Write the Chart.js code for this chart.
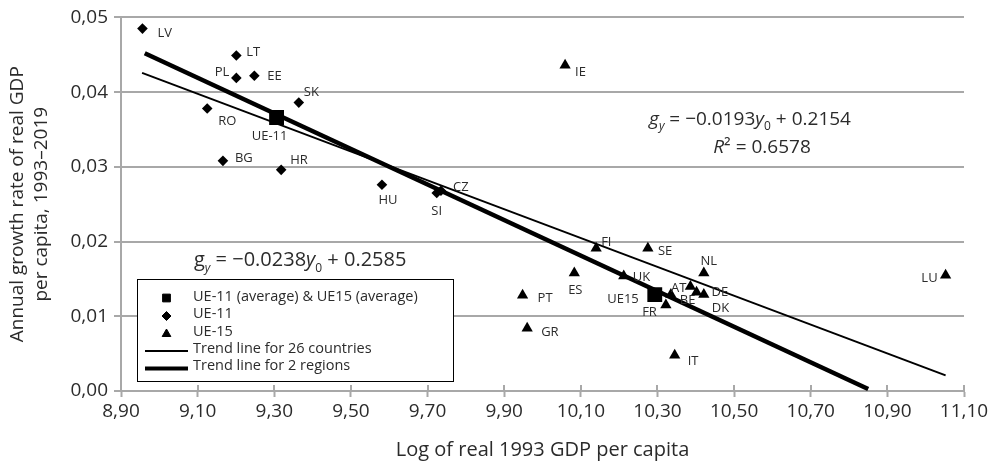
<!DOCTYPE html>
<html>
<head>
<meta charset="utf-8">
<script src="https://cdn.jsdelivr.net/npm/chart.js@4.4.1/dist/chart.umd.min.js"></script>
<style>
  html, body { margin: 0; padding: 0; background: #fff; }
  #wrap { width: 994px; height: 462px; }
</style>
</head>
<body>
<div id="wrap"><canvas id="c" width="994" height="462"></canvas></div>
<script>
const FONT = '"Open Sans", "Noto Sans", sans-serif';
const INK = '#2b2b2b';
const GRID = '#a8a8a8';

// Regional averages (log of real 1993 GDP per capita, annual growth 1993–2019)
const regionNames = ['UE-11', 'UE15'];
const regionX = [9.306, 10.293];
const regionY = [0.0366, 0.0129];

// UE-11 countries
const ue11Names = ['LV', 'LT', 'PL', 'EE', 'SK', 'RO', 'BG', 'HR', 'HU', 'CZ', 'SI'];
const ue11X = [8.956, 9.201, 9.201, 9.248, 9.364, 9.125, 9.166, 9.318, 9.581, 9.735, 9.724];
const ue11Y = [0.0485, 0.0449, 0.0419, 0.0422, 0.0386, 0.0378, 0.0308, 0.0296, 0.0276, 0.0268, 0.0265];

// UE-15 countries
const ue15Names = ['IE', 'FI', 'SE', 'NL', 'ES', 'UK', 'PT', 'GR', 'AT', 'DE', 'DK', 'BE', 'FR', 'IT', 'LU'];
const ue15X = [10.059, 10.140, 10.275, 10.421, 10.083, 10.212, 9.948, 9.960, 10.386, 10.402, 10.421, 10.335, 10.322, 10.345, 11.052];
const ue15Y = [0.0436, 0.0191, 0.0191, 0.0158, 0.0158, 0.0154, 0.0128, 0.0084, 0.0140, 0.0132, 0.0129, 0.0129, 0.0115, 0.0048, 0.0155];

// Fitted trend lines: [26 countries, 2 regions]
const trendSlopes = [-0.0193, -0.0238];
const trendIntercepts = [0.2154, 0.2585];
const trendFrom = [8.955, 8.962];
const trendTo = [11.052, 10.85];
const trendR2 = 0.6578;

// Axis ticks
const xTicks = [8.9, 9.1, 9.3, 9.5, 9.7, 9.9, 10.1, 10.3, 10.5, 10.7, 10.9, 11.1];
const yTicks = [0, 0.01, 0.02, 0.03, 0.04, 0.05];

const toPoints = (xs, ys) => xs.map((x, i) => ({ x, y: ys[i] }));
const trendPoints = k => [trendFrom[k], trendTo[k]].map(x => ({ x, y: trendSlopes[k] * x + trendIntercepts[k] }));
const comma = (v, d) => v.toFixed(d).replace('.', ',');

// Where each point's name sits relative to its marker
const labelPlace = {
  'LV': ['left', 15, 5], 'LT': ['left', 10, -3], 'PL': ['right', -7, -6], 'EE': ['left', 13, 1],
  'SK': ['left', 5, -10], 'RO': ['left', 11, 13], 'UE-11': ['center', -7, 19], 'BG': ['left', 12, -3],
  'HR': ['left', 9, -10], 'HU': ['center', 6, 16], 'CZ': ['left', 12, -3], 'SI': ['center', 0, 18],
  'IE': ['left', 10, 7], 'FI': ['left', 5, -6], 'SE': ['left', 10, 3], 'NL': ['center', 5, -12],
  'ES': ['center', 1, 17], 'UK': ['left', 9, 1], 'PT': ['left', 15, 3], 'GR': ['left', 14, 4],
  'AT': ['right', -4, 2], 'DE': ['left', 15, 0], 'BE': ['left', 9, 6], 'DK': ['left', 8, 14],
  'FR': ['right', -9, 7], 'UE15': ['right', -16, 5], 'IT': ['left', 13, 6], 'LU': ['right', -8, 3]
};

// Short tick stubs on the inner side of both axes
const innerTicks = {
  id: 'innerTicks',
  afterDraw(chart) {
    const ctx = chart.ctx, xs = chart.scales.x, ys = chart.scales.y;
    ctx.save();
    ctx.strokeStyle = GRID;
    ctx.lineWidth = 2;
    ctx.beginPath();
    xs.ticks.forEach(t => {
      const px = Math.round(xs.getPixelForValue(t.value));
      ctx.moveTo(px, ys.bottom);
      ctx.lineTo(px, ys.bottom - 6);
    });
    ys.ticks.forEach(t => {
      const py = Math.round(ys.getPixelForValue(t.value));
      ctx.moveTo(xs.left, py);
      ctx.lineTo(xs.left + 5, py);
    });
    ctx.stroke();
    ctx.restore();
  }
};

// Country / region name labels
const pointNames = {
  id: 'pointNames',
  afterDatasetsDraw(chart) {
    const ctx = chart.ctx;
    ctx.save();
    ctx.font = `13px ${FONT}`;
    ctx.fillStyle = INK;
    ctx.textBaseline = 'middle';
    chart.data.datasets.forEach((ds, i) => {
      if (!ds.names) return;
      const meta = chart.getDatasetMeta(i);
      ds.names.forEach((name, j) => {
        const el = meta.data[j];
        const [align, dx, dy] = labelPlace[name] || ['left', 8, 0];
        ctx.textAlign = align;
        ctx.fillText(name, el.x + dx, el.y + dy);
      });
    });
    ctx.restore();
  }
};

function drawRich(ctx, parts, x, y, size, align) {
  const fontFor = p => `${p.i ? 'italic ' : ''}${p.sub ? Math.round(size * 0.62) : size}px ${FONT}`;
  let total = 0;
  parts.forEach(p => { ctx.font = fontFor(p); p.w = ctx.measureText(p.t).width; total += p.w; });
  let cx = align === 'center' ? x - total / 2 : x;
  ctx.textAlign = 'left';
  parts.forEach(p => {
    ctx.font = fontFor(p);
    ctx.fillText(p.t, cx, p.sub ? y + size * 0.28 : y);
    cx += p.w;
  });
}

const eqText = k => ({
  slope: '\u2212' + Math.abs(trendSlopes[k]).toFixed(4),
  icpt: trendIntercepts[k].toFixed(4)
});

// Regression equations
const equations = {
  id: 'equations',
  afterDraw(chart) {
    const ctx = chart.ctx;
    ctx.save();
    ctx.fillStyle = INK;
    ctx.textBaseline = 'alphabetic';
    const a = eqText(0);
    drawRich(ctx, [
      { t: 'g', i: true }, { t: 'y', i: true, sub: true },
      { t: ' = ' + a.slope }, { t: 'y', i: true }, { t: '0', sub: true }, { t: ' + ' + a.icpt }
    ], 750, 125, 19, 'center');
    drawRich(ctx, [{ t: 'R', i: true }, { t: '\u00b2 = ' + trendR2.toFixed(4) }], 762, 153, 19, 'center');
    const b = eqText(1);
    drawRich(ctx, [
      { t: 'g' }, { t: 'y', i: true, sub: true },
      { t: ' = ' + b.slope }, { t: 'y', i: true }, { t: '0', sub: true }, { t: ' + ' + b.icpt }
    ], 194, 266, 20, 'left');
    ctx.restore();
  }
};

// Boxed legend in the lower left
const legendBox = {
  id: 'legendBox',
  afterDraw(chart) {
    const ctx = chart.ctx, H = Chart.helpers;
    ctx.save();
    ctx.fillStyle = '#fff';
    ctx.fillRect(137.5, 279.5, 316, 102);
    ctx.strokeStyle = '#000';
    ctx.lineWidth = 1;
    ctx.strokeRect(137.5, 279.5, 316, 102);
    ctx.fillStyle = '#000';
    ctx.strokeStyle = '#000';
    H.drawPoint(ctx, { pointStyle: 'rect', radius: 5.5, rotation: 0, borderWidth: 1 }, 166.5, 298);
    H.drawPoint(ctx, { pointStyle: 'rectRot', radius: 4.5, rotation: 0, borderWidth: 1 }, 166.5, 316);
    H.drawPoint(ctx, { pointStyle: 'triangle', radius: 5, rotation: 0, borderWidth: 1 }, 166.5, 334);
    ctx.beginPath(); ctx.lineWidth = 2; ctx.moveTo(145, 351); ctx.lineTo(188, 351); ctx.stroke();
    ctx.beginPath(); ctx.lineWidth = 4; ctx.moveTo(145, 368.5); ctx.lineTo(188, 368.5); ctx.stroke();
    ctx.fillStyle = INK;
    ctx.font = `14.5px ${FONT}`;
    ctx.textAlign = 'left';
    ctx.textBaseline = 'alphabetic';
    const rows = ['UE-11 (average) & UE15 (average)', 'UE-11', 'UE-15', 'Trend line for 26 countries', 'Trend line for 2 regions'];
    const base = [300.7, 318.3, 335.7, 353.3, 370];
    rows.forEach((r, i) => ctx.fillText(r, 193, base[i]));
    ctx.restore();
  }
};

new Chart(document.getElementById('c'), {
  type: 'scatter',
  data: {
    datasets: [
      { label: 'Trend line for 2 regions', type: 'line', data: trendPoints(1), borderColor: '#000', borderWidth: 4.5,
        pointRadius: 0, fill: false, showLine: true, borderCapStyle: 'butt', order: 1 },
      { label: 'Trend line for 26 countries', type: 'line', data: trendPoints(0), borderColor: '#000', borderWidth: 2,
        pointRadius: 0, fill: false, showLine: true, order: 2 },
      { label: 'UE-11 (average) & UE15 (average)', data: toPoints(regionX, regionY), names: regionNames,
        pointStyle: 'rect', pointRadius: 10.5, backgroundColor: '#000', borderColor: '#000', borderWidth: 0, order: 3 },
      { label: 'UE-11', data: toPoints(ue11X, ue11Y), names: ue11Names,
        pointStyle: 'rectRot', pointRadius: 5.3, backgroundColor: '#000', borderColor: '#000', borderWidth: 0, order: 4 },
      { label: 'UE-15', data: toPoints(ue15X, ue15Y), names: ue15Names,
        pointStyle: 'triangle', pointRadius: 6.5, backgroundColor: '#000', borderColor: '#000', borderWidth: 0, order: 5 }
    ]
  },
  options: {
    responsive: false,
    animation: false,
    devicePixelRatio: 1,
    layout: { padding: { left: 0, right: 30, top: 17, bottom: 0 } },
    plugins: { legend: { display: false }, tooltip: { enabled: false } },
    scales: {
      x: {
        type: 'linear', min: 8.9, max: 11.1,
        afterBuildTicks: s => { s.ticks = xTicks.map(v => ({ value: v })); },
        afterFit: s => { s.height = 71; },
        grid: { drawOnChartArea: false, drawTicks: true, tickLength: 6, tickWidth: 2, tickColor: GRID },
        border: { display: true, color: GRID, width: 2 },
        ticks: { color: INK, font: { family: FONT, size: 19 }, padding: 3, maxRotation: 0, autoSkip: false,
                 callback: v => comma(v, 2) },
        title: { display: true, text: 'Log of real 1993 GDP per capita', color: INK,
                 font: { family: FONT, size: 20, lineHeight: 1.2 }, padding: { top: 0, bottom: 0 } }
      },
      y: {
        type: 'linear', min: 0, max: 0.05,
        afterBuildTicks: s => { s.ticks = yTicks.map(v => ({ value: v })); },
        afterFit: s => { s.width = 121; },
        grid: { drawOnChartArea: true, color: GRID, lineWidth: 2, drawTicks: true, tickLength: 7, tickWidth: 2, tickColor: GRID },
        border: { display: true, color: GRID, width: 2 },
        ticks: { color: INK, font: { family: FONT, size: 19 }, padding: 6, autoSkip: false,
                 callback: v => comma(v, 2) },
        title: { display: true, text: ['Annual growth rate of real GDP', 'per capita, 1993\u20132019'], color: INK,
                 font: { family: FONT, size: 19, lineHeight: 1.26 }, padding: { top: 6, bottom: 0 } }
      }
    }
  },
  plugins: [innerTicks, pointNames, equations, legendBox]
});
</script>
</body>
</html>
